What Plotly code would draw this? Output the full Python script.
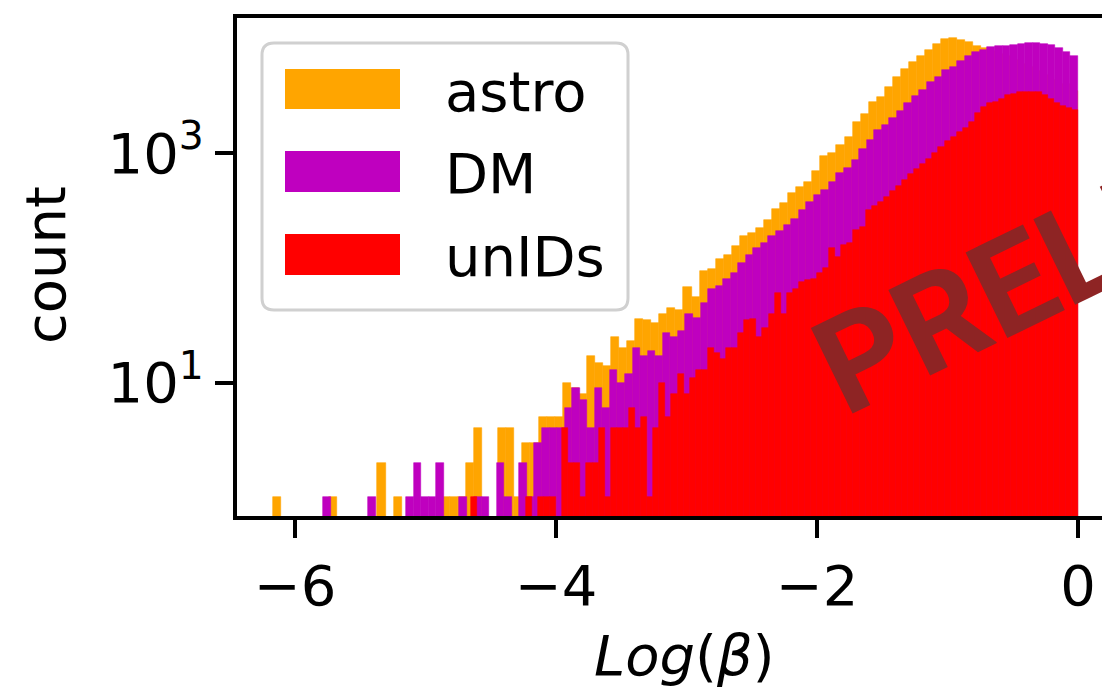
import numpy as np
import plotly.graph_objects as go

# ---------------- data ----------------
series_names = ["astro", "DM", "unIDs"]
# data range of Log(beta) per series (each histogram has 100 bins ending at 0)
astro_range = (-6.17, 0.0)
dm_range = (-5.785, 0.0)
unids_range = (-4.65, 0.0)
n_bins = 100

astro_counts = [1, 0, 0, 0, 0, 0, 0, 1, 0, 0,
                0, 0, 0, 2, 0, 1, 0, 0, 0, 0,
                0, 1, 1, 1, 2, 4, 0, 0, 4, 4,
                1, 3, 3, 5, 5, 5, 10, 9, 8, 17,
                15, 14, 25, 20, 23, 36, 35, 33, 40, 45,
                43, 68, 56, 95, 98, 120, 130, 155, 190, 200,
                225, 260, 330, 370, 450, 510, 560, 700, 950, 1000,
                1180, 1400, 1870, 2200, 2800, 3100, 3800, 4600, 5400, 6200,
                7000, 7900, 9000, 10000, 10200, 9800, 9250, 8700, 8200, 7800,
                7400, 7000, 6500, 6000, 5600, 5200, 4800, 4400, 4000, 3500]

dm_counts = [1, 0, 0, 0, 0, 0, 1, 0, 0, 0,
             0, 1, 2, 1, 1, 2, 0, 0, 1, 0,
             1, 1, 0, 2, 1, 0, 2, 1, 3, 4,
             4, 4, 6, 9, 7, 4, 9, 6, 13, 10,
             12, 20, 17, 19, 17, 27, 25, 28, 40, 37,
             50, 65, 70, 80, 90, 110, 130, 150, 165, 190,
             210, 235, 270, 320, 380, 430, 480, 560, 670, 740,
             870, 1100, 1300, 1600, 1750, 2050, 2350, 2750, 3150, 3550,
             4150, 4600, 5300, 5700, 6400, 7000, 7700, 8000, 8400, 8600,
             8600, 8800, 8900, 9100, 9100, 8900, 8800, 8200, 7700, 7000]

unids_counts = [1, 0, 0, 0, 0, 0, 0, 0, 0, 1,
                0, 1, 1, 1, 0, 4, 2, 2, 1, 2,
                2, 4, 1, 4, 4, 4, 6, 4, 5, 1,
                4, 10, 5, 8, 12, 8, 11, 13, 13, 20,
                18, 16, 20, 20, 27, 35, 36, 25, 30, 40,
                60, 40, 60, 65, 75, 78, 80, 90, 100, 150,
                125, 160, 165, 215, 230, 320, 345, 375, 420, 470,
                520, 580, 665, 730, 810, 900, 1000, 1130, 1280, 1380,
                1530, 1650, 1860, 2250, 2550, 2720, 2800, 3000, 3200, 3300,
                3400, 3450, 3450, 3400, 3200, 3000, 2750, 2600, 2500, 2400]

x_tick_vals = [-6, -4, -2, 0]
x_tick_text = ["\u22126", "\u22124", "\u22122", "0"]
y_tick_vals = [10, 1000]
y_tick_text = ["10<sup>1</sup>", "10<sup>3</sup>"]
x_title = "<i>Log</i>(<i>\u03b2</i>)"
y_title = "count"
watermark = "PRELIMINARY"

# ---------------- styles ----------------
colors = ["#FFA500", "#BF00BF", "#FF0000"]
FONT = "DejaVu Sans"
FS = 56
OFF = 8                      # page body margin of the html page
W, H = 1110 - OFF, 691 - OFF
L, R, T, B = 229, 0, 10, 175
PW, PH = W - L - R, H - T - B


def px(x):   # window pixel -> paper
    return (x - OFF - L) / PW


def py(y):   # window pixel -> paper
    return (H - B - (y - OFF)) / PH


fig = go.Figure()
for name, rng, counts, col in zip(series_names,
                                  [astro_range, dm_range, unids_range],
                                  [astro_counts, dm_counts, unids_counts],
                                  colors):
    edges = np.linspace(rng[0], rng[1], n_bins + 1)
    centers = 0.5 * (edges[:-1] + edges[1:])
    width = edges[1] - edges[0]
    fig.add_trace(go.Bar(x=centers, y=counts, width=width, name=name,
                         marker=dict(color=col, line=dict(width=0.6, color=col)),
                         showlegend=False))

# ---------------- custom legend (matplotlib style) ----------------
shapes = []
bx0, bx1, by0, by1 = px(262), px(628), py(310), py(43)
rx, ry = 12 / PW, 12 / PH
path = (f"M {bx0+rx},{by0} L {bx1-rx},{by0} Q {bx1},{by0} {bx1},{by0+ry} "
        f"L {bx1},{by1-ry} Q {bx1},{by1} {bx1-rx},{by1} L {bx0+rx},{by1} "
        f"Q {bx0},{by1} {bx0},{by1-ry} L {bx0},{by0+ry} Q {bx0},{by0} {bx0+rx},{by0} Z")
shapes.append(dict(type="path", xref="paper", yref="paper", path=path,
                   fillcolor="rgba(255,255,255,0.8)", line=dict(color="#d0d0d0", width=3)))
patch_y = [(69, 109), (151, 192), (234, 275)]
annotations = []
for name, col, (y0, y1) in zip(series_names, colors, patch_y):
    shapes.append(dict(type="rect", xref="paper", yref="paper",
                       x0=px(285), x1=px(400), y0=py(y1), y1=py(y0),
                       fillcolor=col, line=dict(width=0)))
    annotations.append(dict(text=name, xref="paper", yref="paper",
                            x=px(443), y=py((y0 + y1) / 2 + 2), xanchor="left", yanchor="middle",
                            showarrow=False, font=dict(family=FONT, size=FS, color="black")))

# axis titles
annotations.append(dict(text=y_title, xref="paper", yref="paper", x=px(45), y=py(265),
                        xanchor="center", yanchor="middle", textangle=-90, showarrow=False,
                        font=dict(family=FONT, size=FS, color="black")))
annotations.append(dict(text=x_title, xref="paper", yref="paper", x=px(684), y=py(655),
                        xanchor="center", yanchor="middle", showarrow=False,
                        font=dict(family=FONT, size=FS, color="black")))
# watermark
annotations.append(dict(text=watermark, xref="paper", yref="paper", x=px(1214), y=py(186),
                        xanchor="center", yanchor="middle", textangle=-26, showarrow=False,
                        font=dict(family="Roboto", size=134, color="#8E2424", weight="bold")))

x_left = (237 - 1078) / 130.5
x_right = (1110 - 1078) / 130.5
y_bot = (497.4 - 516) / 114.7
y_top = (497.4 - 18) / 114.7

fig.update_layout(
    width=W, height=H,
    margin=dict(l=L, r=R, t=T, b=B, pad=0),
    paper_bgcolor="white", plot_bgcolor="white",
    barmode="overlay", bargap=0,
    shapes=shapes, annotations=annotations,
    xaxis=dict(range=[x_left, x_right], tickvals=x_tick_vals, ticktext=x_tick_text,
               showgrid=False, zeroline=False, showline=True, linecolor="black", linewidth=4,
               mirror=True, ticks="outside", ticklen=18, tickwidth=4, tickcolor="black",
               tickfont=dict(family=FONT, size=FS, color="black")),
    yaxis=dict(type="log", range=[y_bot, y_top], tickvals=y_tick_vals, ticktext=y_tick_text,
               showgrid=False, zeroline=False, showline=True, linecolor="black", linewidth=4,
               mirror=False, ticks="outside", ticklen=18, tickwidth=4, tickcolor="black",
               tickfont=dict(family=FONT, size=FS, color="black")),
)

fig.write_html("out.html")
